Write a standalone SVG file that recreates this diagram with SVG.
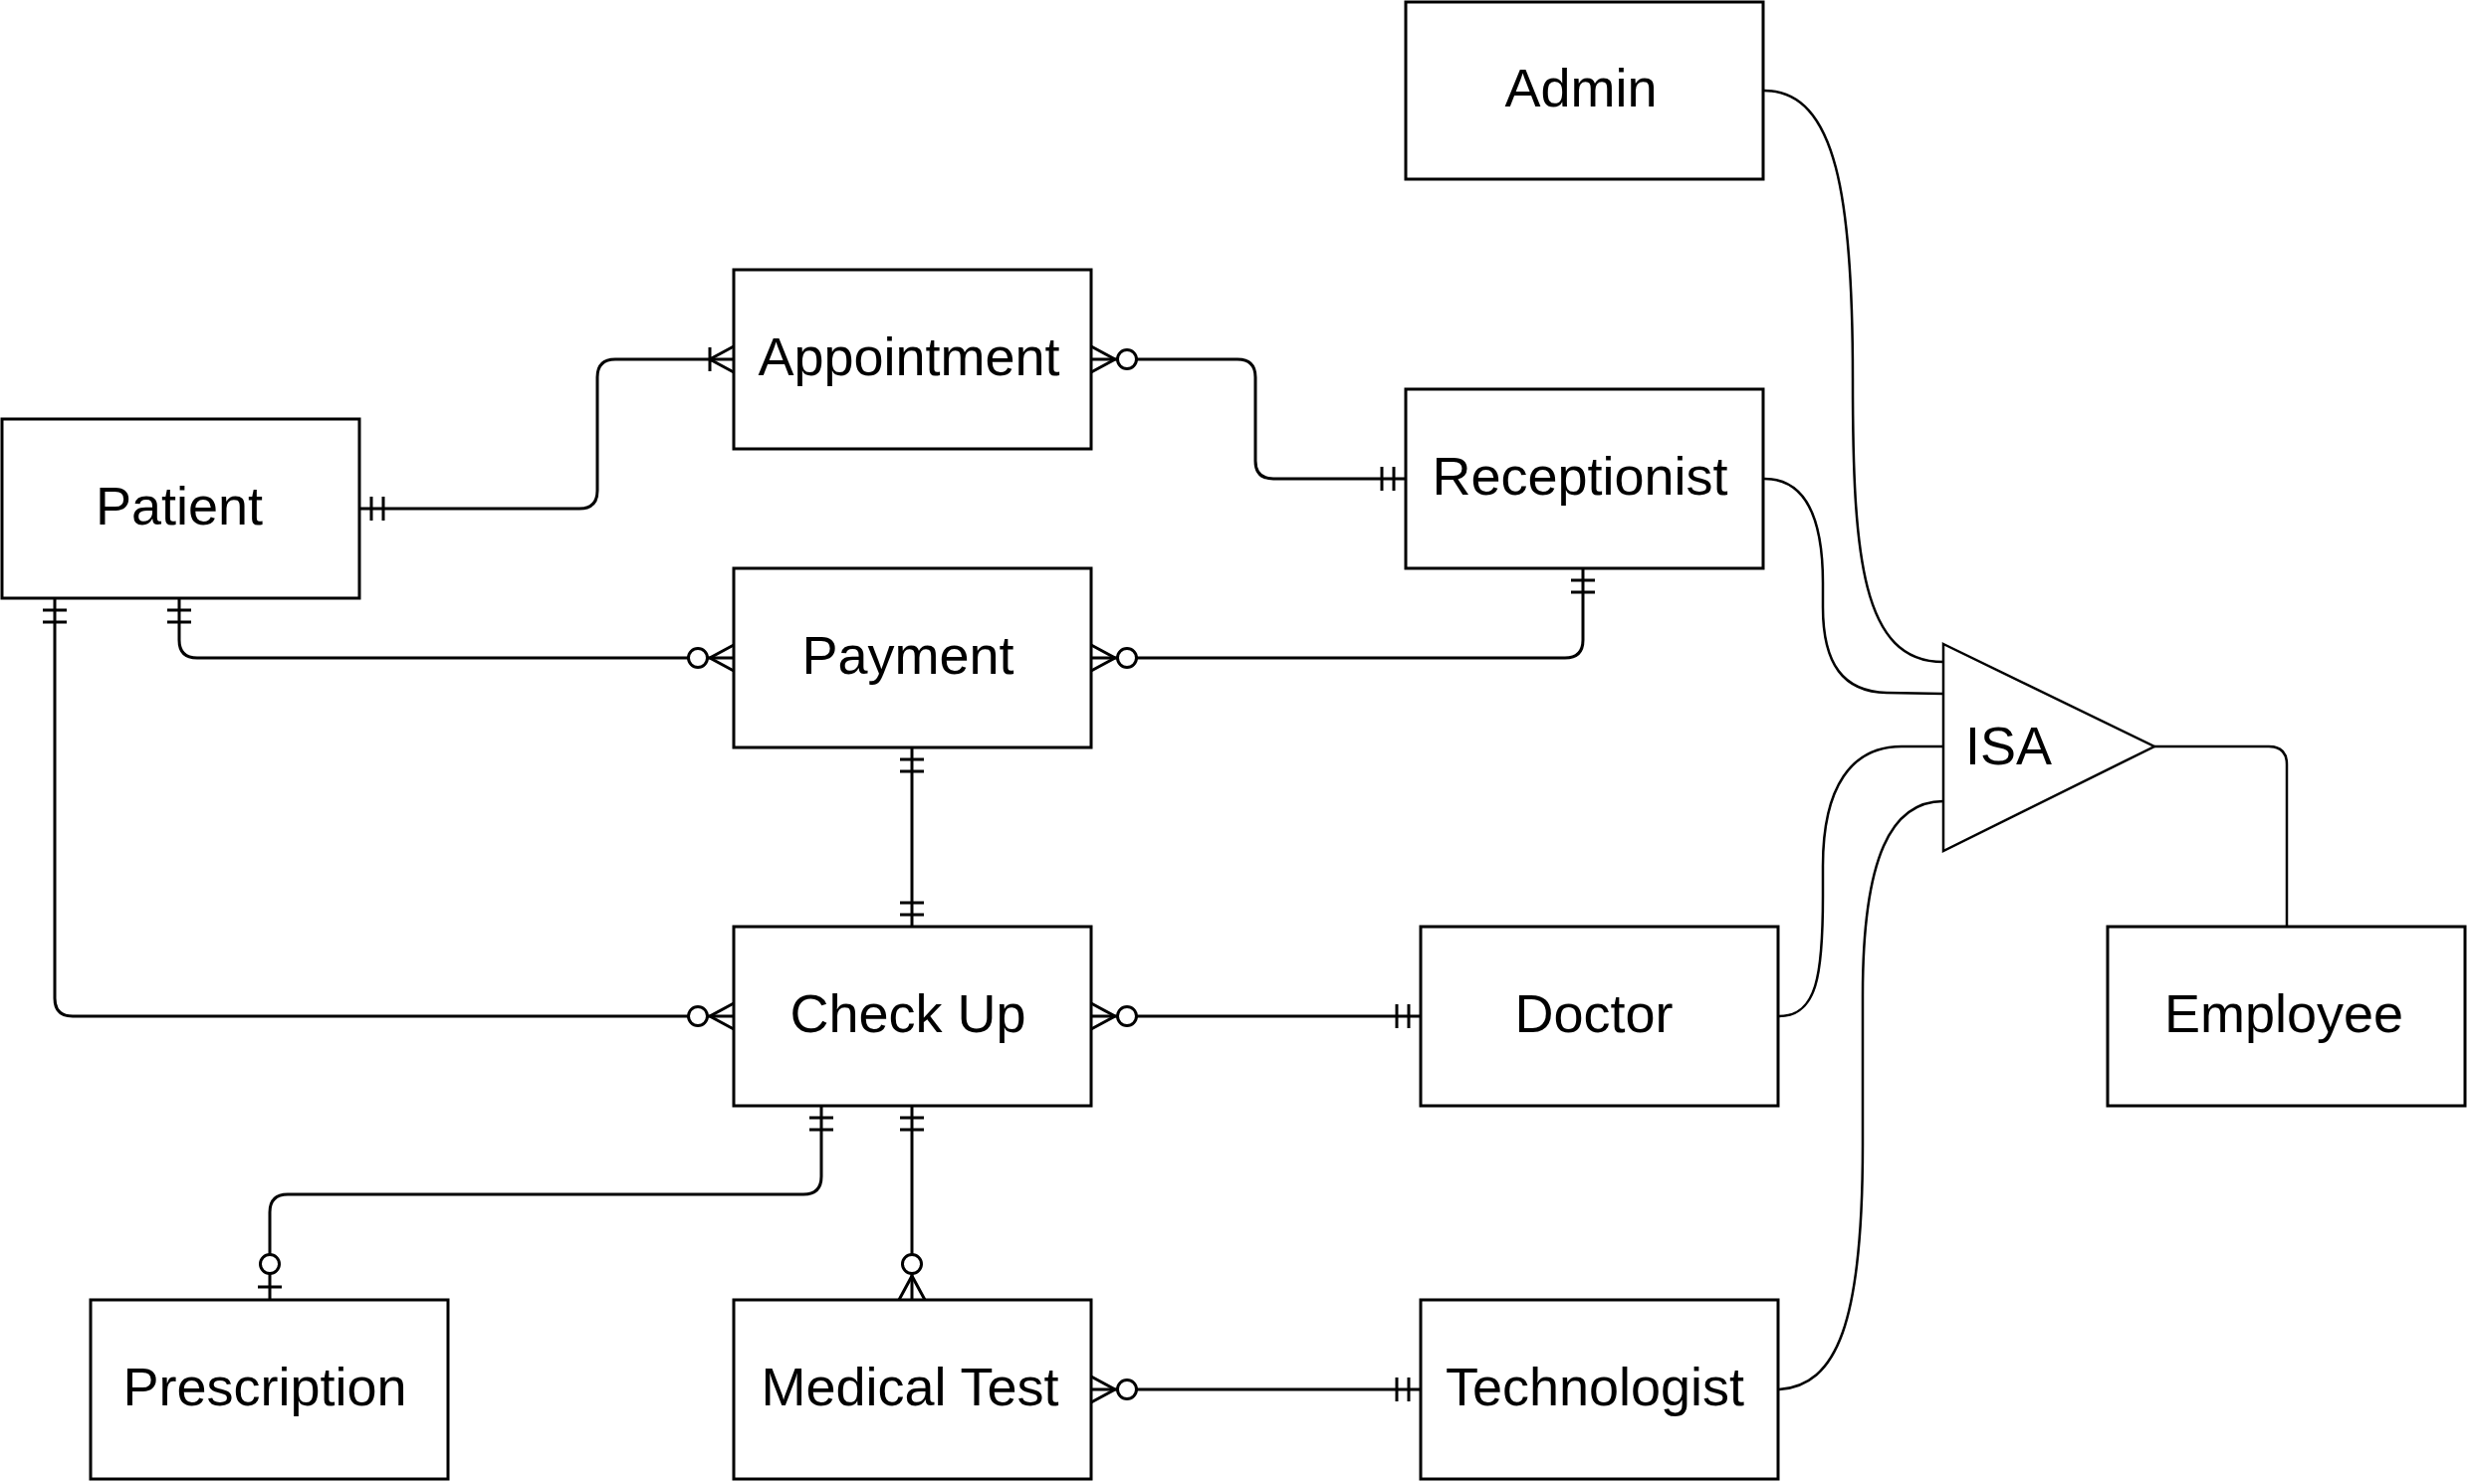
<svg xmlns="http://www.w3.org/2000/svg" width="2481" height="1491" viewBox="0 0 2481 1491">
<style>
.box{fill:#fff;stroke:#000;stroke-width:3}
.lbl{font-family:"Liberation Sans",Arial,sans-serif;font-size:54px;fill:#000;text-anchor:middle}
.conn{fill:none;stroke:#000;stroke-width:3}
.isa{fill:none;stroke:#000;stroke-width:2.5}
.mk{fill:none;stroke:#000;stroke-width:3}
</style>
<defs>
<marker id="mOne" markerUnits="userSpaceOnUse" orient="auto-start-reverse" refX="0" refY="0" markerWidth="60" markerHeight="60" overflow="visible">
<path class="mk" d="M-12,-12 V12 M-24,-12 V12"/>
</marker>
<marker id="mOneMany" markerUnits="userSpaceOnUse" orient="auto-start-reverse" refX="0" refY="0" markerWidth="60" markerHeight="60" overflow="visible">
<path class="mk" d="M0,-13 L-24,0 L0,13 M-24,-12 V12"/>
</marker>
<marker id="mZeroMany" markerUnits="userSpaceOnUse" orient="auto-start-reverse" refX="0" refY="0" markerWidth="80" markerHeight="60" overflow="visible">
<path class="mk" d="M0,-13 L-24,0 L0,13"/>
<circle cx="-36" cy="0" r="9.5" fill="#fff" stroke="#000" stroke-width="3"/>
</marker>
<marker id="mZeroOne" markerUnits="userSpaceOnUse" orient="auto-start-reverse" refX="0" refY="0" markerWidth="80" markerHeight="60" overflow="visible">
<path class="mk" d="M-13,-12 V12"/>
<circle cx="-36" cy="0" r="9.5" fill="#fff" stroke="#000" stroke-width="3"/>
</marker>
</defs>
<rect width="2481" height="1491" fill="#fff"/>
<g id="connectors">
<path class="conn" d="M361,511 H582 Q600,511 600,493 V379 Q600,361 618,361 H737" marker-start="url(#mOne)" marker-end="url(#mOneMany)"/>
<path class="conn" d="M1096,361 H1243 Q1261,361 1261,379 V463 Q1261,481 1279,481 H1412" marker-start="url(#mZeroMany)" marker-end="url(#mOne)"/>
<path class="conn" d="M180,601 V643 Q180,661 198,661 H737" marker-start="url(#mOne)" marker-end="url(#mZeroMany)"/>
<path class="conn" d="M55,601 V1003 Q55,1021 73,1021 H737" marker-start="url(#mOne)" marker-end="url(#mZeroMany)"/>
<path class="conn" d="M1096,661 H1572 Q1590,661 1590,643 V571" marker-start="url(#mZeroMany)" marker-end="url(#mOne)"/>
<path class="conn" d="M916,751 V931" marker-start="url(#mOne)" marker-end="url(#mOne)"/>
<path class="conn" d="M1096,1021 H1427" marker-start="url(#mZeroMany)" marker-end="url(#mOne)"/>
<path class="conn" d="M825,1111 V1182 Q825,1200 807,1200 H289 Q271,1200 271,1218 V1306" marker-start="url(#mOne)" marker-end="url(#mZeroOne)"/>
<path class="conn" d="M916,1111 V1306" marker-start="url(#mOne)" marker-end="url(#mZeroMany)"/>
<path class="conn" d="M1096,1396 H1427" marker-start="url(#mZeroMany)" marker-end="url(#mOne)"/>
<path class="isa" d="M1772,91 C1845,91 1861,200 1861,380 C1861,560 1870,665 1952,665"/>
<path class="isa" d="M1772,481 C1818,481 1831,530 1831,586 L1831,610 C1831,668 1852,695 1895,696 L1952,697"/>
<path class="isa" d="M1787,1021 C1825,1021 1831,980 1831,900 L1831,870 C1831,790 1860,750 1910,750 L1952,750"/>
<path class="isa" d="M1787,1396 C1845,1392 1871,1330 1871,1150 L1871,1000 C1871,860 1900,805 1952,805"/>
<path class="isa" d="M2164,750 H2279 Q2297,750 2297,768 V931"/>
</g>
<g id="node-admin"><rect class="box" x="1412" y="2" width="359" height="178"/><text class="lbl" x="1588" y="107">Admin</text></g>
<g id="node-appointment"><rect class="box" x="737" y="271" width="359" height="180"/><text class="lbl" x="913" y="377">Appointment</text></g>
<g id="node-receptionist"><rect class="box" x="1412" y="391" width="359" height="180"/><text class="lbl" x="1587" y="497">Receptionist</text></g>
<g id="node-patient"><rect class="box" x="2" y="421" width="359" height="180"/><text class="lbl" x="180" y="527">Patient</text></g>
<g id="node-payment"><rect class="box" x="737" y="571" width="359" height="180"/><text class="lbl" x="912" y="677">Payment</text></g>
<g id="node-checkup"><rect class="box" x="737" y="931" width="359" height="180"/><text class="lbl" x="912" y="1037">Check Up</text></g>
<g id="node-doctor"><rect class="box" x="1427" y="931" width="359" height="180"/><text class="lbl" x="1601" y="1037">Doctor</text></g>
<g id="node-employee"><rect class="box" x="2117" y="931" width="359" height="180"/><text class="lbl" x="2294" y="1037">Employee</text></g>
<g id="node-isa"><polygon class="isa" points="1952,647 2164,750 1952,855" fill="#fff"/><text class="lbl" x="1974" y="768" style="text-anchor:start">ISA</text></g>
<g id="node-prescription"><rect class="box" x="91" y="1306" width="359" height="180"/><text class="lbl" x="266" y="1412">Prescription</text></g>
<g id="node-medicaltest"><rect class="box" x="737" y="1306" width="359" height="180"/><text class="lbl" x="914" y="1412">Medical Test</text></g>
<g id="node-technologist"><rect class="box" x="1427" y="1306" width="359" height="180"/><text class="lbl" x="1602" y="1412">Technologist</text></g>
</svg>
